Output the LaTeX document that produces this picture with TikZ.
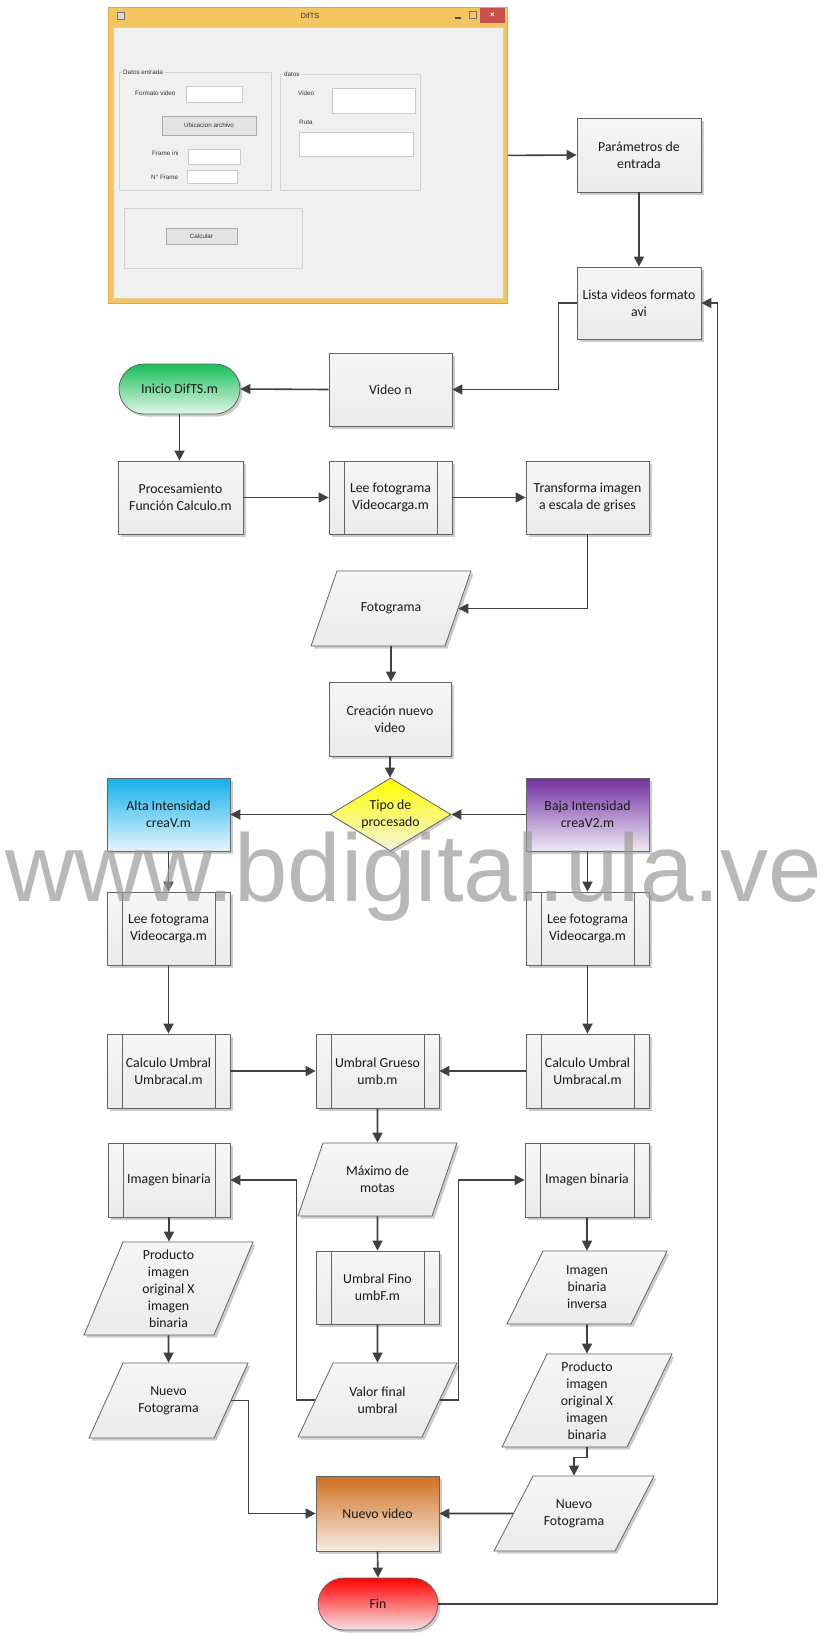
\documentclass[tikz,border=0pt]{standalone}
\usepackage{fontspec}
\setmainfont{Carlito}
\newfontfamily\wmfont{Liberation Sans}
\newfontfamily\uifont{Liberation Sans}
\usetikzlibrary{shapes.geometric,shapes.misc,arrows.meta,shadows,calc}
\definecolor{bordc}{HTML}{646464}
\definecolor{arrc}{HTML}{404040}
\definecolor{gtop}{HTML}{F6F6F6}
\definecolor{gbot}{HTML}{EBEBEB}
\definecolor{greentop}{HTML}{17BF5A}
\definecolor{greenbot}{HTML}{E3F6E8}
\definecolor{cyantop}{HTML}{12B0EA}
\definecolor{cyanbot}{HTML}{E6F5FC}
\definecolor{purptop}{HTML}{7030A0}
\definecolor{purpbot}{HTML}{F0EAF5}
\definecolor{yeltop}{HTML}{FFFF00}
\definecolor{yelbot}{HTML}{F5F3DC}
\definecolor{orgtop}{HTML}{D0701F}
\definecolor{orgbot}{HTML}{F5ECE4}
\definecolor{redtop}{HTML}{FF0000}
\definecolor{redbot}{HTML}{F7E2E2}
\definecolor{wingold}{HTML}{F3C662}
\definecolor{winborder}{HTML}{DDA94A}
\definecolor{clientc}{HTML}{F0F0F0}
\definecolor{grpc}{HTML}{D3D3D3}
\definecolor{tbc}{HTML}{CBCBCB}
\definecolor{btnfill}{HTML}{E3E3E3}
\definecolor{btnbord}{HTML}{ABABAB}
\definecolor{closered}{HTML}{C9504A}
\definecolor{wmc}{HTML}{9A9A9A}
\begin{document}
\begin{tikzpicture}[x=1pt,y=-1pt,
  font=\fontsize{13.8}{17}\selectfont,
  base/.style={draw=bordc, line width=0.8pt, text=black!90,
    drop shadow={shadow xshift=2.5pt,shadow yshift=-2.5pt,opacity=0.2,fill=black}},
  proc/.style={base, rectangle, align=center, minimum width=123pt, minimum height=73pt, inner sep=2pt,
    top color=gtop, bottom color=gbot},
  subproc/.style={proc, path picture={\draw[bordc,line width=0.8pt]
    ([xshift=15pt]path picture bounding box.north west) -- ([xshift=15pt]path picture bounding box.south west)
    ([xshift=-15pt]path picture bounding box.north east) -- ([xshift=-15pt]path picture bounding box.south east);}},
  io/.style args={#1/#2/#3/#4}{base, trapezium, trapezium left angle=#1, trapezium right angle=#2,
    inner sep=0pt, top color=gtop, bottom color=gbot,
    execute at begin node={\begin{minipage}[c][#4][c]{#3}\centering},
    execute at end node={\end{minipage}}},
  decision/.style={base, diamond, align=center, aspect=1.66, minimum width=121pt, minimum height=73pt, inner sep=0pt},
  term/.style={base, rounded rectangle, align=center, minimum width=125pt, minimum height=50pt, inner sep=2pt},
  arr/.style={draw=arrc, line width=1.6pt, -{Triangle[length=10pt,width=10pt]}},
  tb/.style={fill=white, draw=tbc, line width=0.6pt},
  btn/.style={fill=btnfill, draw=btnbord, line width=0.6pt},
  grp/.style={draw=grpc, line width=0.7pt},
  ui/.style={font=\uifont\fontsize{6.3}{7}\selectfont, text=black!80, inner sep=1pt},
]
\useasboundingbox (0,0) rectangle (827,1634);
\fill[white] (0,0) rectangle (827,1634);

% ---------- application window ----------
\node[draw=winborder, fill=wingold, line width=0.8pt, minimum width=399pt, minimum height=296pt,
  inner sep=0pt, anchor=north west] (win) at (108,7) {};
\fill[clientc] (113,27) rectangle (503,298);
\draw[winborder!60, line width=0.5pt] (113,27) rectangle (503,298);
\draw[black!55, fill=black!15, line width=0.5pt] (117,12) rectangle (124,19);
\node[ui, font=\uifont\fontsize{7.5}{8}\selectfont] (wtitle) at (310,16) {DifTS};
\draw[black!70, line width=1.3pt] (455,18) -- (461,18);
\draw[black!55, line width=0.6pt] (469,11) rectangle (476,18);
\fill[closered] (480,8) rectangle (505,23);
\node[text=white, font=\uifont\bfseries\fontsize{8}{8}\selectfont, inner sep=0pt] (wclose) at (492.5,15.5) {×};
% group 1
\draw[grp] (119,72) rectangle (271,190);
\node[ui, fill=clientc, anchor=west] (g1) at (122,72) {Datos entrada};
\node[ui, anchor=west] (l1) at (134,93) {Formato video};
\draw[tb] (186,86) rectangle (242,102);
\draw[btn] (162,116) rectangle (256,135);
\node[ui] (b1) at (209,125.5) {Ubicacion archivo};
\node[ui, anchor=west] (l2) at (151,153) {Frame ini};
\draw[tb] (188,149) rectangle (240,164);
\node[ui, anchor=west] (l3) at (150,177) {N° Frame};
\draw[tb] (187,170) rectangle (237,183);
% group 2
\draw[grp] (280,74) rectangle (420,190);
\node[ui, fill=clientc, anchor=west] (g2) at (283,74) {datos};
\node[ui, anchor=west] (l4) at (297,93) {Video};
\draw[tb] (332,88) rectangle (415,113);
\node[ui, anchor=west] (l5) at (298,122) {Ruta};
\draw[tb] (299,132) rectangle (413,156);
% group 3
\draw[grp] (124,208) rectangle (302,268);
\draw[btn] (166,228) rectangle (237,244);
\node[ui] (b2) at (201.5,236) {Calcular};

% ---------- flowchart nodes ----------
\node[proc, minimum width=124pt, minimum height=74pt] (par) at (639,155) {Parámetros de\\entrada};
\node[proc, minimum width=124pt, minimum height=72pt] (lista) at (639,303) {Lista videos formato\\avi};
\node[proc] (video) at (390.5,389.5) {Video n};
\node[term, top color=greentop, bottom color=greenbot] (inicio) at (179.5,389) {Inicio DifTS.m};
\node[proc, minimum width=125pt] (procf) at (180.5,497.5) {Procesamiento\\Función Calculo.m};
\node[subproc] (lee1) at (390.5,497.5) {Lee fotograma\\Videocarga.m};
\node[proc] (trans) at (587.5,497.5) {Transforma imagen\\a escala de grises};
\node[io=70.9/109.1/108pt/75pt] (foto) at (391,608.5) {Fotograma};
\node[proc, minimum width=122pt, minimum height=74pt] (crea) at (390,719) {Creación nuevo\\video};
\node[decision, top color=yeltop, bottom color=yelbot] (tipo) at (390.5,814.5) {Tipo de\\procesado};
\node[proc, top color=cyantop, bottom color=cyanbot] (alta) at (168.5,814.5) {Alta Intensidad\\creaV.m};
\node[proc, top color=purptop, bottom color=purpbot] (baja) at (587.5,814.5) {Baja Intensidad\\creaV2.m};
\node[subproc] (lee2) at (168.5,928.5) {Lee fotograma\\Videocarga.m};
\node[subproc] (lee3) at (587.5,928.5) {Lee fotograma\\Videocarga.m};
\node[subproc, minimum height=74pt] (calc1) at (168.5,1071) {Calculo Umbral\\Umbracal.m};
\node[subproc, minimum height=74pt] (umbg) at (377.5,1071) {Umbral Grueso\\umb.m};
\node[subproc, minimum height=74pt] (calc2) at (587.5,1071) {Calculo Umbral\\Umbracal.m};
\node[subproc, minimum width=122pt, minimum height=74pt] (imb1) at (169,1180) {Imagen binaria};
\node[io=71.1/108.9/109pt/73pt] (maximo) at (377.5,1179.5) {Máximo de\\motas};
\node[subproc, minimum width=124pt, minimum height=74pt] (imb2) at (587,1180) {Imagen binaria};
\node[subproc] (umbf) at (377.5,1287.5) {Umbral Fino\\umbF.m};
\node[io=67.25/112.75/91pt/93pt] (prodL) at (168.5,1288.5) {Producto\\imagen\\original X\\imagen\\binaria};
\node[io=63.7/116.3/88pt/73pt] (invR) at (587,1287.5) {Imagen\\binaria\\inversa};
\node[io=64.7/115.3/89pt/74pt] (valor) at (377.5,1400) {Valor final\\umbral};
\node[io=65.6/114.4/91pt/75pt] (nfL) at (168.5,1400.5) {Nuevo\\Fotograma};
\node[io=64.2/115.8/80pt/93pt] (prodR) at (587,1400.5) {Producto\\imagen\\original X\\imagen\\binaria};
\node[proc, minimum height=75pt, top color=orgtop, bottom color=orgbot] (nvideo) at (377.5,1513.5) {Nuevo video};
\node[io=62.5/117.5/82pt/75pt] (nfR) at (574,1513.5) {Nuevo\\Fotograma};
\node[term, minimum width=124pt, minimum height=52pt, top color=redtop, bottom color=redbot] (fin) at (378,1604) {Fin};

% ---------- connectors ----------
\draw[arr] (win.east) -- (par.west);
\draw[arr] (par.south) -- (lista.north);
\draw[arr] (lista.west) -- ++(-18,0) |- (video.east);
\draw[arr] (video.west) -- (inicio.east);
\draw[arr] (inicio.south) -- (inicio.south |- procf.north);
\draw[arr] (procf.east) -- (lee1.west);
\draw[arr] (lee1.east) -- (trans.west);
\draw[arr] (trans.south) |- (foto.east);
\draw[arr] (foto.south) -- (foto.south |- crea.north);
\draw[arr] (crea.south) -- (crea.south |- tipo.north);
\draw[arr] (tipo.west) -- (alta.east);
\draw[arr] (baja.west) -- (tipo.east);
\draw[arr] (alta.south) -- (lee2.north);
\draw[arr] (baja.south) -- (lee3.north);
\draw[arr] (lee2.south) -- (calc1.north);
\draw[arr] (lee3.south) -- (calc2.north);
\draw[arr] (calc1.east) -- (umbg.west);
\draw[arr] (calc2.west) -- (umbg.east);
\draw[arr] (umbg.south) -- (maximo.north);
\draw[arr] (maximo.south) -- (umbf.north);
\draw[arr] (umbf.south) -- (valor.north);
\draw[arr] (valor.west) -- ++(-18.5,0) |- (imb1.east);
\draw[arr] (valor.east) -- ++(18.5,0) |- (imb2.west);
\draw[arr] (imb1.south) -- (imb1.south |- prodL.north);
\draw[arr] (prodL.south) -- (nfL.north);
\draw[arr] (nfL.east) -- ++(17,0) |- (nvideo.west);
\draw[arr] (imb2.south) -- (invR.north);
\draw[arr] (invR.south) -- (prodR.north);
\draw[arr] (prodR.south) -- ++(0,10) -| (nfR.north);
\draw[arr] (nfR.west) -- (nvideo.east);
\draw[arr] (nvideo.south) -- (fin.north);
\draw[arr] (fin.east) -- ++(279,0) |- (lista.east);

% ---------- watermark ----------
\node[anchor=base west, inner sep=0pt, font=\wmfont\fontsize{96}{100}\selectfont,
  text=wmc, text opacity=0.7] (wm) at (5,901) {www.bdigital.ula.ve};
\end{tikzpicture}
\end{document}
